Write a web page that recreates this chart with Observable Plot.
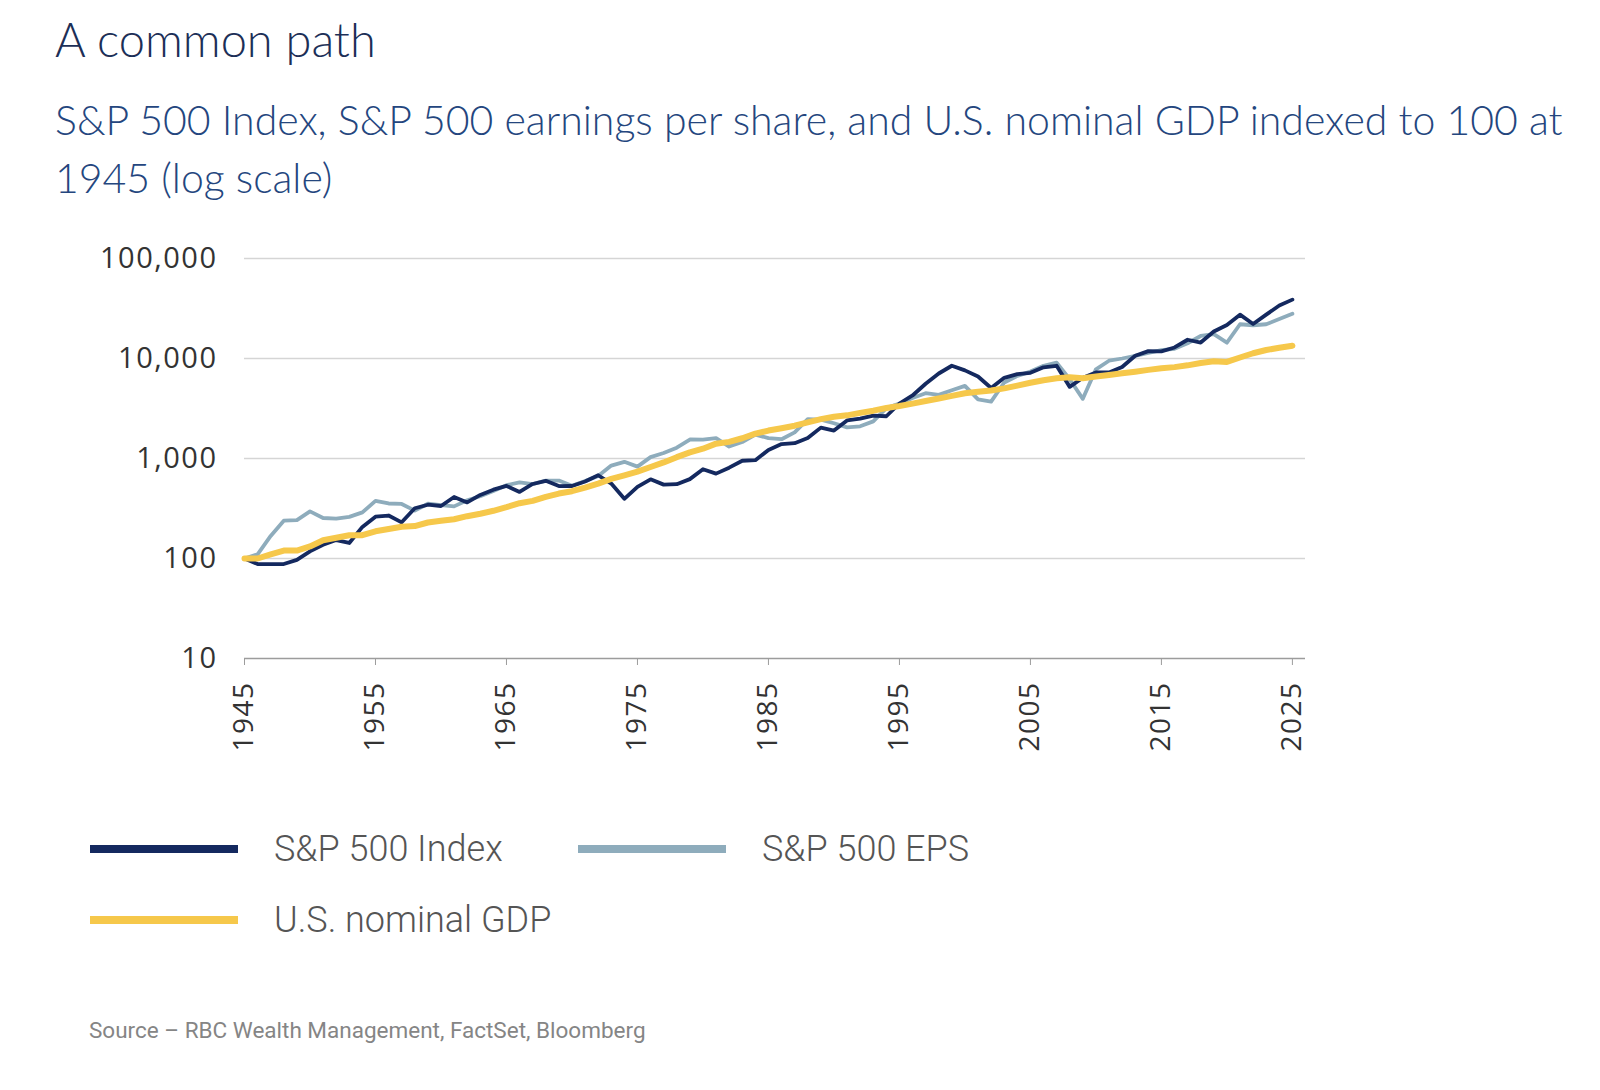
<!DOCTYPE html>
<html>
<head>
<meta charset="utf-8">
<script src="https://cdn.jsdelivr.net/npm/d3@7"></script>
<script src="https://cdn.jsdelivr.net/npm/@observablehq/plot@0.6"></script>
<style>
  html, body { margin: 0; padding: 0; background: #ffffff; }
  body { width: 1600px; height: 1090px; position: relative; overflow: hidden; }
  #title { position: absolute; left: 55px; top: 16px; font-family: Lato, "Open Sans", sans-serif; font-weight: 300; font-size: 47px; line-height: 47px; color: #1c2f57; white-space: nowrap; }
  #subtitle { position: absolute; left: 55px; top: 91px; font-family: Lato, "Open Sans", sans-serif; font-weight: 300; font-size: 41px; line-height: 58px; color: #24467e; white-space: nowrap; }
  #chart { position: absolute; left: 0; top: 200px; }
  #chart svg text { letter-spacing: 1.5px; }
  .sw { position: absolute; width: 148px; height: 8px; }
  .lt { position: absolute; font-family: Roboto, sans-serif; font-weight: 300; font-size: 36px; line-height: 36px; color: #555555; white-space: nowrap; }
  #source { position: absolute; left: 89px; top: 1019px; font-family: Roboto, sans-serif; font-size: 22.5px; line-height: 22px; color: #858585; white-space: nowrap; }
</style>
</head>
<body>
<div id="title">A common path</div>
<div id="subtitle">S&amp;P 500 Index, S&amp;P 500 earnings per share, and U.S. nominal GDP indexed to 100 at<br>1945 (log scale)</div>
<div id="chart"></div>
<div id="legend"></div>
<div id="source">Source – RBC Wealth Management, FactSet, Bloomberg</div>
<script>
// ---- data (indexed to 100 at 1945) ----
const years = [1945,1946,1947,1948,1949,1950,1951,1952,1953,1954,1955,1956,1957,1958,1959,1960,1961,1962,1963,1964,1965,1966,1967,1968,1969,1970,1971,1972,1973,1974,1975,1976,1977,1978,1979,1980,1981,1982,1983,1984,1985,1986,1987,1988,1989,1990,1991,1992,1993,1994,1995,1996,1997,1998,1999,2000,2001,2002,2003,2004,2005,2006,2007,2008,2009,2010,2011,2012,2013,2014,2015,2016,2017,2018,2019,2020,2021,2022,2023,2024,2025];

const spIndex = [100,88,88,88,97,118,137,153,143,207,262,269,230,318,345,335,412,364,432,488,532,463,556,598,530,531,588,680,562,395,520,619,548,554,622,782,706,810,950,963,1217,1395,1423,1600,2036,1902,2403,2510,2687,2646,3548,4267,5590,7081,8463,7605,6613,5068,6405,6981,7191,8170,8458,5203,6423,7244,7244,8215,10647,11860,11774,12896,15401,14440,18611,21636,27455,22117,27476,33880,38800];

const spEPS = [100,110,168,239,242,296,254,250,261,289,377,355,351,301,353,341,332,382,419,474,541,578,555,600,602,534,594,669,850,926,829,1032,1134,1284,1548,1544,1600,1317,1461,1733,1600,1560,1823,2474,2450,2250,2050,2100,2350,3188,3538,4034,4500,4330,4820,5330,3900,3700,5750,6700,7400,8450,9100,6200,3950,7800,9500,10000,10600,11400,12100,12500,14200,16800,17500,14400,22000,21500,22000,24800,28000];

const usGDP = [100,100,110,120,120,132,152,161,171,171,187,197,208,211,229,238,247,265,280,300,326,357,377,413,446,471,511,561,625,678,739,822,913,1031,1152,1253,1407,1467,1594,1771,1903,2009,2129,2297,2474,2615,2701,2860,3008,3196,3351,3541,3762,3975,4224,4496,4641,4794,5025,5358,5719,6059,6348,6478,6350,6600,6842,7129,7387,7698,7985,8200,8543,9006,9378,9237,10226,11291,12158,12800,13400];

const seriesNames = ["S&P 500 Index", "S&P 500 EPS", "U.S. nominal GDP"];
const seriesColors = ["#14295f", "#8eacbc", "#f6c84b"];
const xTicks = [1945,1955,1965,1975,1985,1995,2005,2015,2025];
const yTicks = [10,100,1000,10000,100000];

// ---- chart ----
const rows = (vals, name) => vals.map((v, i) => ({year: years[i], value: v, series: name}));

const chart = Plot.plot({
  width: 1600,
  height: 620,
  marginLeft: 244,
  marginRight: 295,
  marginTop: 58,
  marginBottom: 162,
  style: {fontFamily: "'Open Sans', sans-serif", fontSize: "28px", color: "#333333", background: "transparent", overflow: "visible"},
  x: {domain: [1945, 2026]},
  y: {type: "log", domain: [10, 100000]},
  marks: [
    Plot.ruleY(yTicks.slice(1), {stroke: "#d5d5d5", strokeWidth: 1.6}),
    Plot.ruleY([10], {stroke: "#9c9c9c", strokeWidth: 1.6}),
    Plot.axisY({ticks: yTicks, tickFormat: d3.format(","), tickSize: 0, tickPadding: 27, fontSize: 29, fill: "#333333", label: null}),
    Plot.axisX({ticks: xTicks, tickFormat: d => String(d), tickRotate: -90, tickSize: 7, tickPadding: 16, stroke: "#9c9c9c", fill: "#333333", fontSize: 28, label: null}),
    Plot.line(rows(spEPS, seriesNames[1]), {x: "year", y: "value", stroke: seriesColors[1], strokeWidth: 3.8, strokeLinejoin: "round", strokeLinecap: "round"}),
    Plot.line(rows(spIndex, seriesNames[0]), {x: "year", y: "value", stroke: seriesColors[0], strokeWidth: 3.8, strokeLinejoin: "round", strokeLinecap: "round"}),
    Plot.line(rows(usGDP, seriesNames[2]), {x: "year", y: "value", stroke: seriesColors[2], strokeWidth: 6, strokeLinejoin: "round", strokeLinecap: "round"})
  ]
});
document.getElementById("chart").appendChild(chart);

// ---- legend ----
const legend = document.getElementById("legend");
const legendPos = [
  {sx: 90, tx: 274, y: 849},
  {sx: 578, tx: 762, y: 849},
  {sx: 90, tx: 274, y: 920}
];
seriesNames.forEach((name, i) => {
  const p = legendPos[i];
  const sw = document.createElement("div");
  sw.className = "sw";
  sw.style.left = p.sx + "px";
  sw.style.top = (p.y - 4) + "px";
  sw.style.background = seriesColors[i];
  legend.appendChild(sw);
  const t = document.createElement("div");
  t.className = "lt";
  t.style.left = p.tx + "px";
  t.style.top = (p.y - 18) + "px";
  t.textContent = name;
  legend.appendChild(t);
});
</script>
</body>
</html>
